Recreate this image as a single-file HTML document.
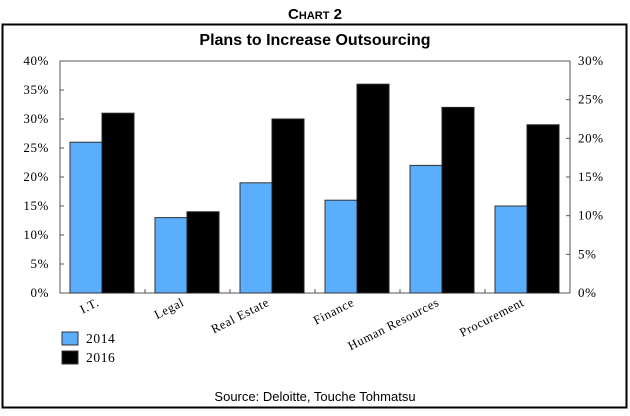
<!DOCTYPE html>
<html><head><meta charset="utf-8"><style>
body{margin:0;background:#fff;width:630px;height:411px;overflow:hidden}
svg text{font-family:"Liberation Serif",serif}
</style></head><body>
<svg id="chart" width="630" height="411" xmlns="http://www.w3.org/2000/svg">
<text x="315" y="19" text-anchor="middle" style="font-family:'Liberation Sans',sans-serif;font-weight:bold;font-size:15px">C<tspan font-size="11">HART</tspan> 2</text>
<rect x="2.5" y="24.5" width="624" height="383" fill="none" stroke="#000" stroke-width="2"/>
<text x="315" y="45" text-anchor="middle" style="font-family:'Liberation Sans',sans-serif;font-weight:bold;font-size:16px">Plans to Increase Outsourcing</text>
<rect x="60" y="61" width="510" height="232" fill="none" stroke="#555" stroke-width="1"/>
<g id="bars"></g><g id="axes"></g>
<rect x="62" y="332" width="16" height="13" fill="#5aaefc" stroke="#333"/>
<text x="86" y="343" font-size="13.5" letter-spacing="0.6">2014</text>
<rect x="62" y="351" width="16" height="13" fill="#000" stroke="#333"/>
<text x="86" y="362" font-size="13.5" letter-spacing="0.6">2016</text>
<text x="315" y="401" text-anchor="middle" style="font-family:'Liberation Sans',sans-serif;font-size:13px">Source: Deloitte, Touche Tohmatsu</text>
</svg>
<script>
const categories=["I.T.","Legal","Real Estate","Finance","Human Resources","Procurement"];
const values2014=[26,13,19,16,22,15];
const values2016=[31,14,30,36,32,29];
const leftTicks=["0%","5%","10%","15%","20%","25%","30%","35%","40%"];
const rightTicks=["0%","5%","10%","15%","20%","25%","30%"];
const NS="http://www.w3.org/2000/svg";
const L=60,R=570,T=61,B=293,gw=(R-L)/categories.length;
const y=v=>B-(v/40)*(B-T);
const yr=v=>B-(v/30)*(B-T);
const bars=document.getElementById('bars'),axes=document.getElementById('axes');
function mk(tag,attrs,parent){const e=document.createElementNS(NS,tag);for(const k in attrs)e.setAttribute(k,attrs[k]);parent.appendChild(e);return e;}
categories.forEach((c,i)=>{
  const x0=L+gw*i;
  const b1=mk('rect',{x:x0+10,y:y(values2014[i]),width:32,height:B-y(values2014[i]),fill:'#5aaefc',stroke:'#333','stroke-width':1},bars);
  
  
  const b2=mk('rect',{x:x0+42,y:y(values2016[i]),width:32,height:B-y(values2016[i]),fill:'#000',stroke:'#222','stroke-width':1},bars);
  
  
  if(i>0){const t=mk('line',{x1:x0,x2:x0,y1:B,y2:B-4,stroke:'#555'},axes);
  
  }
  const cx=x0+40,cy=B+12;
  const tx=mk('text',{x:cx,y:cy,'text-anchor':'end','font-size':'12.5','letter-spacing':'0.6',transform:`rotate(-27 ${cx} ${cy})`},axes);
  
  
  tx.textContent=c;
});
leftTicks.forEach((t,i)=>{
  const v=i*5,yy=y(v);
  const l=mk('line',{x1:L,x2:L+4,y1:yy,y2:yy,stroke:'#555'},axes);
  
  
  const tx=mk('text',{x:49,y:yy+4,'text-anchor':'end','font-size':'13','letter-spacing':'0.6'},axes);
  
  
  tx.textContent=t;
});
rightTicks.forEach((t,i)=>{
  const v=i*5,yy=yr(v);
  const l=mk('line',{x1:R-4,x2:R,y1:yy,y2:yy,stroke:'#555'},axes);
  
  
  const tx=mk('text',{x:578,y:yy+4,'font-size':'13','letter-spacing':'0.6'},axes);
  
  
  tx.textContent=t;
});
</script>
</body></html>
